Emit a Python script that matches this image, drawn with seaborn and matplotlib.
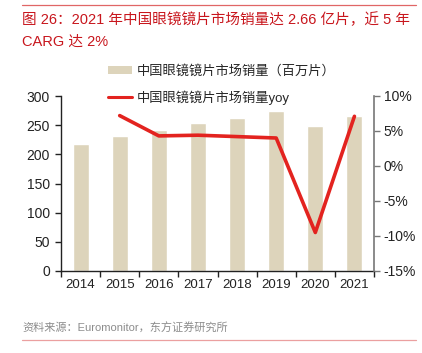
import matplotlib
matplotlib.use("Agg")
import matplotlib.pyplot as plt
import seaborn as sns
import pandas as pd
from matplotlib.lines import Line2D
from matplotlib.patches import Patch
from matplotlib.ticker import FuncFormatter

years = ["2014", "2015", "2016", "2017", "2018", "2019", "2020", "2021"]
sales = [217, 232, 242, 253, 263, 274, 248, 266]
yoy_years = ["2015", "2016", "2017", "2018", "2019", "2020", "2021"]
yoy = [7.2, 4.3, 4.4, 4.2, 4.0, -9.5, 7.1]

bar_label = "中国眼镜镜片市场销量（百万片）"
line_label = "中国眼镜镜片市场销量yoy"
title_line1 = "图 26：2021 年中国眼镜镜片市场销量达 2.66 亿片，近 5 年"
title_line2 = "CARG 达 2%"
source = "资料来源：Euromonitor，东方证券研究所"

sns.set_theme(style="white")
plt.rcParams["font.family"] = ["Liberation Sans", "Noto Sans CJK SC", "DejaVu Sans"]

bar_color = "#DDD4BB"
line_color = "#E3231F"

fig = plt.figure(figsize=(4.22, 3.53), dpi=100)
ax = fig.add_axes([61 / 422, 1 - 271 / 353, (374 - 61) / 422, (271 - 96) / 353])

df = pd.DataFrame({"year": years, "sales": sales})
sns.barplot(data=df, x="year", y="sales", color=bar_color, width=0.41,
            saturation=1, ax=ax, order=years)
ax.set_xlim(-0.5, len(years) - 0.5)
ax.set_ylim(0, 300)
ax.set_yticks(range(0, 301, 50))
ax.set_xlabel("")
ax.set_ylabel("")

ax2 = ax.twinx()
df2 = pd.DataFrame({"x": [years.index(y) for y in yoy_years], "yoy": yoy})
sns.lineplot(data=df2, x="x", y="yoy", color=line_color, linewidth=2.6, ax=ax2)
ax2.set_ylim(-15, 10)
ax2.set_yticks(range(-15, 11, 5))
ax2.yaxis.set_major_formatter(FuncFormatter(lambda v, p: f"{int(v)}%"))
ax2.set_xlim(-0.5, len(years) - 0.5)
ax2.set_xlabel("")
ax2.set_ylabel("")

# ticks
ax.set_xticks(range(len(years)))
ax.set_xticklabels(years)
ax.set_xticks([i - 0.5 for i in range(len(years) + 1)], minor=True)
ax.tick_params(axis="x", which="major", length=0, labelsize=9.5, pad=6, colors="#222222")
ax.tick_params(axis="x", which="minor", length=4, width=1, color="#222222", direction="out", bottom=True)
ax.tick_params(axis="y", length=4, width=1, labelsize=10, colors="#222222", left=True, direction="out", pad=4)
ax2.tick_params(axis="y", length=4, width=1, labelsize=10, color="#777777", labelcolor="#222222", right=True, direction="out", pad=3)

for s in ["top", "right"]:
    ax.spines[s].set_visible(False)
for s in ["top", "left", "bottom"]:
    ax2.spines[s].set_visible(False)
ax.spines["left"].set_color("#222222")
ax.spines["bottom"].set_color("#222222")
ax.spines["left"].set_linewidth(1)
ax.spines["bottom"].set_linewidth(1)
ax2.spines["right"].set_color("#777777")
ax2.spines["right"].set_linewidth(1.2)

handles = [Patch(facecolor=bar_color, edgecolor="none", label=bar_label),
           Line2D([0], [0], color=line_color, linewidth=2.2, label=line_label)]
fig.legend(handles=handles, loc="upper left", bbox_to_anchor=(108 / 422, 1 - 65 / 353),
           frameon=False, fontsize=9.5, handlelength=1.8, handleheight=0.6,
           handletextpad=0.35, labelspacing=0.95, borderaxespad=0, borderpad=0)

fig.text(22 / 422, 1 - 20 / 353, title_line1, color="#C8161D", fontsize=10.5,
         fontweight="medium", va="center", ha="left")
fig.text(22 / 422, 1 - 42 / 353, title_line2, color="#C8161D", fontsize=10.5,
         fontweight="medium", va="center", ha="left")
fig.text(22 / 422, 1 - 328 / 353, source, color="#8C8C8C", fontsize=8, va="center", ha="left")

fig.add_artist(Line2D([22 / 422, 416 / 422], [1 - 5 / 353, 1 - 5 / 353], color="#E06666", linewidth=0.9))
fig.add_artist(Line2D([22 / 422, 416 / 422], [1 - 340 / 353, 1 - 340 / 353], color="#EBA0A0", linewidth=0.9))

fig.savefig("out.png", dpi=100)
